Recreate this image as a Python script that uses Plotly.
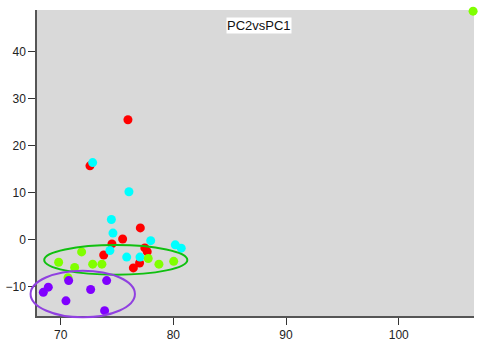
import plotly.graph_objects as go

# ---- data ----
red_x = [75.97, 72.6, 77.07, 75.5, 74.55, 73.82, 77.47, 77.68, 77.0, 76.45]
red_y = [25.5, 15.7, 2.5, 0.15, -0.9, -3.25, -1.75, -2.55, -4.95, -6.0]

cyan_x = [72.84, 76.06, 74.5, 74.64, 77.99, 80.17, 80.7, 74.37, 75.86, 77.04]
cyan_y = [16.4, 10.2, 4.3, 1.4, -0.2, -1.1, -1.8, -2.3, -3.7, -3.7]

lime_x = [106.6, 69.82, 71.86, 71.24, 72.84, 73.66, 77.77, 78.72, 80.03, 70.65]
lime_y = [48.6, -4.8, -2.6, -5.9, -5.2, -5.2, -4.0, -5.2, -4.6, -8.1]

purple_x = [68.46, 68.9, 70.71, 70.47, 72.66, 74.08, 73.9]
purple_y = [-11.2, -10.1, -8.7, -13.0, -10.6, -8.7, -15.1]

# ellipses: (center x, center y, semi-axis x, semi-axis y)
green_ellipse = (74.89, -4.3, 6.35, 3.15)
purple_ellipse = (71.96, -11.55, 4.63, 4.96)

x_range = [67.9, 106.68]
y_range = [-16.23, 48.85]
title_text = "PC2vsPC1"

fig = go.Figure()
for xs, ys, col in [(red_x, red_y, "#ff0000"), (cyan_x, cyan_y, "#00ffff"),
                    (lime_x, lime_y, "#80ff00"), (purple_x, purple_y, "#8000ff")]:
    fig.add_trace(go.Scatter(x=xs, y=ys, mode="markers",
                             marker=dict(color=col, size=9, line=dict(width=0)),
                             cliponaxis=False, showlegend=False))


def to_dom(v, r):
    return (v - r[0]) / (r[1] - r[0])


for (cx, cy, ax, ay), col in [(green_ellipse, "#10c010"), (purple_ellipse, "#9040e0")]:
    fig.add_shape(type="circle", xref="x domain", yref="y domain",
                  x0=to_dom(cx - ax, x_range), x1=to_dom(cx + ax, x_range),
                  y0=to_dom(cy - ay, y_range), y1=to_dom(cy + ay, y_range),
                  line=dict(color=col, width=2), layer="above")

fig.add_annotation(text=title_text, xref="paper", yref="paper", x=0.507, y=0.948,
                   xanchor="center", yanchor="middle",
                   showarrow=False, bgcolor="white",
                   font=dict(family="Liberation Sans, Arial", size=13, color="#111"),
                   borderpad=0)

axis_common = dict(showgrid=False, zeroline=False, showline=True, linecolor="#555555",
                   linewidth=1.5, ticks="outside", ticklen=7, tickcolor="#333333",
                   tickwidth=1, automargin=False,
                   tickfont=dict(family="Liberation Sans, Arial", size=12, color="#222"))

fig.update_layout(
    template="none",
    width=478, height=349,
    margin=dict(l=37, r=4, t=10, b=33, pad=0),
    paper_bgcolor="white", plot_bgcolor="#d9d9d9",
    xaxis=dict(range=x_range, tickvals=[70, 80, 90, 100], **axis_common),
    yaxis=dict(range=y_range, tickvals=[-10, 0, 10, 20, 30, 40], **axis_common),
)

fig.write_html("out.html", config={"displayModeBar": False},
               post_script="document.body.style.margin='0';document.body.style.overflow='hidden';")
